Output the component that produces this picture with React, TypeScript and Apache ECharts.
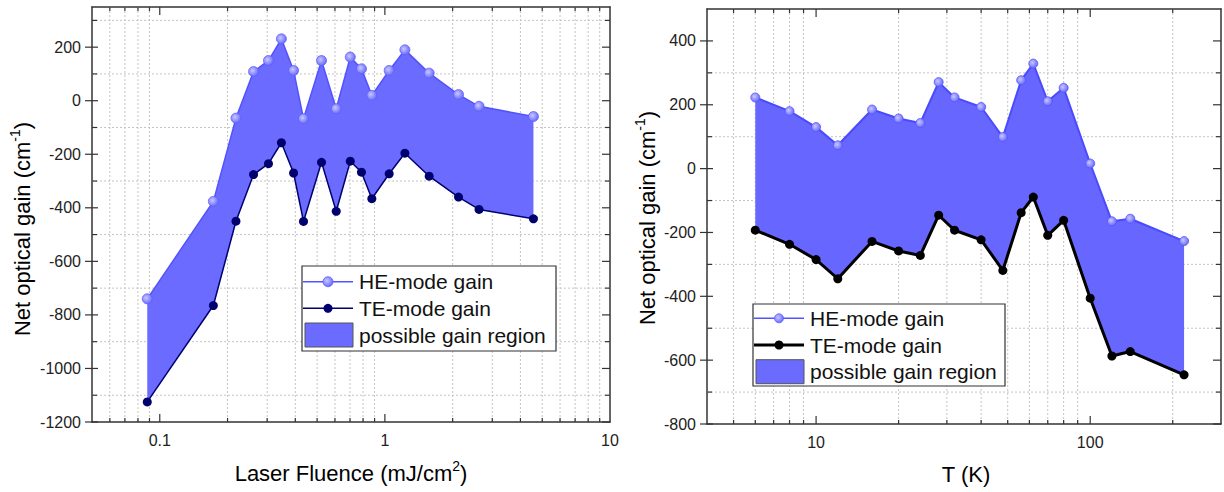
import React, { useEffect, useRef } from 'react';
import * as echarts from 'echarts';

// ---------- Left panel: gain vs laser fluence ----------
const fluence = [0.088, 0.173, 0.218, 0.261, 0.304, 0.347, 0.393, 0.435, 0.523, 0.608, 0.702, 0.787, 0.875, 1.045, 1.227, 1.573, 2.124, 2.62, 4.57];
const heFluence = [-740, -376, -65, 109, 150, 231, 113, -67, 150, -30, 163, 119, 20, 113, 190, 103, 23, -21, -59];
const teFluence = [-1125, -765, -450, -276, -235, -157, -270, -451, -230, -413, -226, -267, -366, -273, -196, -282, -360, -406, -441];

// ---------- Right panel: gain vs temperature ----------
const temperature = [6, 8, 10, 12, 16, 20, 24, 28, 32, 40, 48, 56, 62, 70, 80, 100, 120, 140, 220];
const heTemp = [223, 180, 130, 73, 185, 157, 143, 271, 223, 193, 99, 277, 329, 211, 253, 16, -165, -157, -227];
const teTemp = [-193, -237, -285, -345, -228, -258, -272, -146, -193, -223, -319, -138, -89, -209, -162, -406, -587, -573, -646];

// ---------- Tick lists ----------
const leftXMajor = [0.1, 1];
const leftXMinor = [0.06, 0.07, 0.08, 0.09, 0.2, 0.3, 0.4, 0.5, 0.6, 0.7, 0.8, 0.9, 2, 3, 4, 5, 6, 7, 8, 9];
const leftYMajor = [-1200, -1000, -800, -600, -400, -200, 0, 200];
const leftYMinor = [-1100, -900, -700, -500, -300, -100, 100, 300];

const rightXMajor = [10, 100];
const rightXMinor = [5, 6, 7, 8, 9, 20, 30, 40, 50, 60, 70, 80, 90, 200];
const rightYMajor = [-800, -600, -400, -200, 0, 200, 400];
const rightYMinor = [-700, -500, -300, -100, 100, 300];

const FONT = "'Liberation Sans', Arial, Helvetica, sans-serif";
const FILL = '#6b6bff';
const HE_LINE = '#5252ff';
const TE_LEFT = '#00006e';

const heMarker = () =>
  new echarts.graphic.RadialGradient(0.4, 0.4, 0.6, [
    { offset: 0, color: '#c8c8ff' },
    { offset: 1, color: '#6c6cff' },
  ]);

function decorData(xMajor: number[], xMinor: number[], yMajor: number[], yMinor: number[], xMid: number, yMid: number) {
  const d: number[][] = [];
  xMinor.forEach((v) => d.push([v, yMid, 0]));
  xMajor.forEach((v) => d.push([v, yMid, 1]));
  yMinor.forEach((v) => d.push([xMid, v, 2]));
  yMajor.forEach((v) => d.push([xMid, v, 3]));
  return d;
}

function decorSeries(idx: number, data: number[][]) {
  return {
    type: 'custom',
    xAxisIndex: idx,
    yAxisIndex: idx,
    silent: true,
    clip: false,
    z: 1,
    encode: { x: 0, y: 1 },
    data,
    renderItem: (params: any, api: any) => {
      const cs = params.coordSys;
      const L = cs.x, R = cs.x + cs.width, T = cs.y, B = cs.y + cs.height;
      const kind = api.value(2);
      const p = api.coord([api.value(0), api.value(1)]);
      const tick = { stroke: '#333', lineWidth: 1.2 };
      const grid = { stroke: '#c4c4c4', lineWidth: 1, lineDash: [2, 2] };
      const ln = (x1: number, y1: number, x2: number, y2: number, style: any) => ({ type: 'line', shape: { x1, y1, x2, y2 }, style });
      let children: any[] = [];
      if (kind === 0) children = [ln(p[0], T, p[0], B, grid), ln(p[0], B, p[0], B - 4, tick), ln(p[0], T, p[0], T + 4, tick)];
      else if (kind === 1) children = [ln(p[0], B, p[0], B - 8, tick), ln(p[0], T, p[0], T + 8, tick)];
      else if (kind === 2) children = [ln(L, p[1], R, p[1], grid), ln(L, p[1], L + 5, p[1], tick), ln(R, p[1], R - 5, p[1], tick)];
      else children = [ln(L - 7, p[1], L + 6, p[1], tick), ln(R, p[1], R - 8, p[1], tick)];
      return { type: 'group', children };
    },
  };
}

function fillSeries(idx: number, xs: number[], upper: number[], lower: number[], color: string, anchor: number[]) {
  return {
    type: 'custom',
    xAxisIndex: idx,
    yAxisIndex: idx,
    silent: true,
    z: 2,
    encode: { x: 0, y: 1 },
    data: [anchor],
    renderItem: (_params: any, api: any) => {
      const pts: number[][] = [];
      xs.forEach((x, i) => pts.push(api.coord([x, upper[i]])));
      for (let i = xs.length - 1; i >= 0; i--) pts.push(api.coord([xs[i], lower[i]]));
      return { type: 'polygon', shape: { points: pts }, style: { fill: color } };
    },
  };
}

const logLabel = (v: number) => {
  const lg = Math.log10(v);
  if (Math.abs(lg - Math.round(lg)) > 1e-6) return '';
  const p = Math.round(lg);
  return p < 0 ? Number(Math.pow(10, p).toPrecision(3)).toString() : String(Math.round(Math.pow(10, p)));
};

const frameLine = { show: true, onZero: false, lineStyle: { color: '#333', width: 1.5 } };

function xAxes(gridIndex: number, min: number, max: number) {
  return [
    {
      type: 'log', logBase: 10, gridIndex, min, max, position: 'bottom',
      axisLine: frameLine, axisTick: { show: false }, splitLine: { show: false }, minorTick: { show: false },
      axisLabel: { fontSize: 16, color: '#222', fontFamily: FONT, margin: 10, formatter: logLabel },
    },
    {
      type: 'log', logBase: 10, gridIndex, min, max, position: 'top',
      axisLine: frameLine, axisTick: { show: false }, splitLine: { show: false }, axisLabel: { show: false },
    },
  ];
}

function yAxes(gridIndex: number, min: number, max: number) {
  return [
    {
      type: 'value', gridIndex, min, max, interval: 200, position: 'left',
      axisLine: frameLine, axisTick: { show: false }, splitLine: { show: false },
      axisLabel: { fontSize: 16, color: '#222', fontFamily: FONT, margin: 11, formatter: (v: number) => (v % 200 === 0 ? String(v) : '') },
    },
    {
      type: 'value', gridIndex, min, max, interval: 200, position: 'right',
      axisLine: frameLine, axisTick: { show: false }, splitLine: { show: false }, axisLabel: { show: false },
    },
  ];
}

const richTitle = (size: number) => ({
  n: { fontSize: size, fontFamily: FONT, color: '#222', lineHeight: size + 6 },
  s: { fontSize: Math.round(size * 0.62), fontFamily: FONT, color: '#222', verticalAlign: 'top', lineHeight: Math.round(size * 0.62) + 2 },
});

function legend(x: number, y: number, w: number, h: number, rows: number[], teColor: string, teWidth: number, heSize: number) {
  const lx0 = x + 1, lx1 = x + 51, mx = x + 26, tx = x + 57;
  return [
    { type: 'rect', z: 100, shape: { x, y, width: w, height: h }, style: { fill: '#fff', stroke: '#333', lineWidth: 1.2 } },
    { type: 'line', z: 101, shape: { x1: lx0, y1: rows[0], x2: lx1, y2: rows[0] }, style: { stroke: HE_LINE, lineWidth: 1.5 } },
    { type: 'circle', z: 102, shape: { cx: mx, cy: rows[0], r: heSize }, style: { fill: heMarker(), stroke: '#6060ff', lineWidth: 0.8 } },
    { type: 'text', z: 101, x: tx, y: rows[0], style: { text: 'HE-mode gain', font: `21px ${FONT}`, fill: '#111', verticalAlign: 'middle' } },
    { type: 'line', z: 101, shape: { x1: lx0, y1: rows[1], x2: lx1, y2: rows[1] }, style: { stroke: teColor, lineWidth: teWidth } },
    { type: 'circle', z: 102, shape: { cx: mx, cy: rows[1], r: 4.5 }, style: { fill: teColor } },
    { type: 'text', z: 101, x: tx, y: rows[1], style: { text: 'TE-mode gain', font: `21px ${FONT}`, fill: '#111', verticalAlign: 'middle' } },
    { type: 'rect', z: 101, shape: { x: x + 3, y: rows[2] - 12, width: 48, height: 24 }, style: { fill: FILL, stroke: '#555', lineWidth: 1 } },
    { type: 'text', z: 101, x: tx, y: rows[2], style: { text: 'possible gain region', font: `21px ${FONT}`, fill: '#111', verticalAlign: 'middle' } },
  ];
}

export default function App() {
  const ref = useRef<HTMLDivElement>(null);
  useEffect(() => {
    document.body.style.margin = '0';
    document.body.style.overflow = 'hidden';
    if (!ref.current) return;
    const chart = echarts.init(ref.current, null, { renderer: 'svg' });
    const option: any = {
      animation: false,
      backgroundColor: '#fff',
      grid: [
        { left: 92, right: 614, top: 7, bottom: 70 },
        { left: 707, right: -2, top: 9, bottom: 68 },
      ],
      xAxis: [...xAxes(0, 0.05, 10), ...xAxes(1, 4, 300)],
      yAxis: [...yAxes(0, -1200, 350), ...yAxes(1, -800, 500)],
      series: [
        decorSeries(0, decorData(leftXMajor, leftXMinor, leftYMajor, leftYMinor, 1, 0)),
        decorSeries(2, decorData(rightXMajor, rightXMinor, rightYMajor, rightYMinor, 10, 0)),
        fillSeries(0, fluence, heFluence, teFluence, FILL, [1, 0]),
        fillSeries(2, temperature, heTemp, teTemp, '#6767ff', [10, 0]),
        {
          name: 'HE-mode gain', type: 'line', xAxisIndex: 0, yAxisIndex: 0, z: 5,
          data: fluence.map((x, i) => [x, heFluence[i]]),
          symbol: 'circle', symbolSize: 10,
          lineStyle: { color: HE_LINE, width: 1.5 },
          itemStyle: { color: heMarker(), borderColor: '#6060ff', borderWidth: 0.8 },
        },
        {
          name: 'TE-mode gain', type: 'line', xAxisIndex: 0, yAxisIndex: 0, z: 6,
          data: fluence.map((x, i) => [x, teFluence[i]]),
          symbol: 'circle', symbolSize: 9,
          lineStyle: { color: TE_LEFT, width: 1.5 },
          itemStyle: { color: TE_LEFT },
        },
        {
          name: 'HE-mode gain T', type: 'line', xAxisIndex: 2, yAxisIndex: 2, z: 5,
          data: temperature.map((x, i) => [x, heTemp[i]]),
          symbol: 'circle', symbolSize: 9,
          lineStyle: { color: '#4a4aff', width: 2 },
          itemStyle: { color: heMarker(), borderColor: '#5555ff', borderWidth: 0.8 },
        },
        {
          name: 'TE-mode gain T', type: 'line', xAxisIndex: 2, yAxisIndex: 2, z: 6,
          data: temperature.map((x, i) => [x, teTemp[i]]),
          symbol: 'circle', symbolSize: 9,
          lineStyle: { color: '#000', width: 3 },
          itemStyle: { color: '#000' },
        },
      ],
      graphic: [
        ...legend(302, 266, 254, 85, [281.7, 308.3, 335], TE_LEFT, 1.5, 5),
        ...legend(753, 304, 252, 82, [318.3, 345, 371.7], '#000', 3, 4.5),
        {
          type: 'text', z: 50, x: 351, y: 473,
          style: { text: '{n|Laser Fluence (mJ/cm}{s|2}{n|)}', rich: richTitle(22), align: 'center', verticalAlign: 'middle' },
        },
        {
          type: 'text', z: 50, x: 966, y: 474,
          style: { text: '{n|T (K)}', rich: richTitle(22), align: 'center', verticalAlign: 'middle' },
        },
        {
          type: 'text', z: 50, x: 22, y: 229, rotation: Math.PI / 2,
          style: { text: '{n|Net optical gain (cm}{s|-1}{n|)}', rich: richTitle(22), align: 'center', verticalAlign: 'middle' },
        },
        {
          type: 'text', z: 50, x: 647, y: 218, rotation: Math.PI / 2,
          style: { text: '{n|Net optical gain (cm}{s|-1}{n|)}', rich: richTitle(22), align: 'center', verticalAlign: 'middle' },
        },
      ],
    };
    chart.setOption(option);
    return () => chart.dispose();
  }, []);
  return <div ref={ref} style={{ width: 1224, height: 492 }} />;
}
